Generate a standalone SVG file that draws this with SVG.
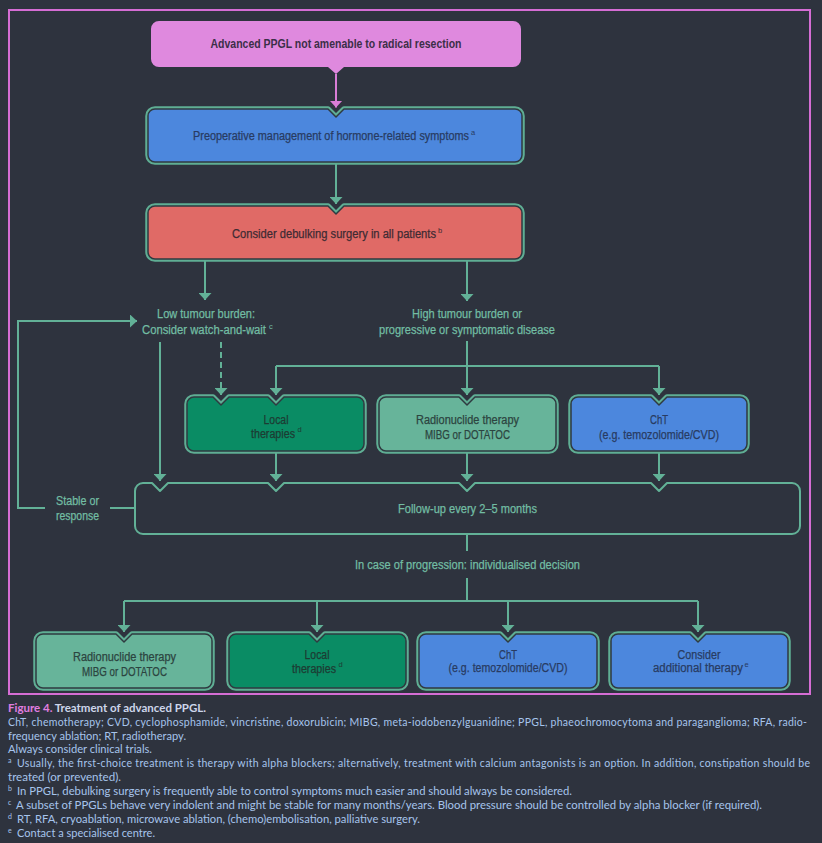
<svg xmlns="http://www.w3.org/2000/svg" width="822" height="843" viewBox="0 0 822 843">
<defs>
<style>
.bg{fill:#2e333e}
.frame{fill:none;stroke:#d56dd4;stroke-width:2}
.edge{fill:none;stroke:#5fae94;stroke-width:5.5;stroke-linejoin:round}
.inner{stroke:#2f3a40;stroke-width:1.5;stroke-linejoin:round}
.blue{fill:#4c87dd}
.red{fill:#e06a66}
.dkg{fill:#0a8c64}
.ltg{fill:#67b49a}
.con{fill:none;stroke:#62b197;stroke-width:2;marker-end:url(#ah)}
.conn{fill:none;stroke:#62b197;stroke-width:2}
.t{font-family:"Liberation Sans",Arial,sans-serif;font-size:12.5px;text-anchor:middle;stroke-width:0.25px}
.tb{fill:#283b62;stroke:#283b62}
.tr{fill:#3d2b33;stroke:#3d2b33}
.tg{fill:#2c4440;stroke:#2c4440}
.tdg{fill:#1d3b33;stroke:#1d3b33}
.tl{fill:#72bda3;stroke:#72bda3}
.sup{font-family:"Liberation Sans",Arial,sans-serif;font-size:7.5px;stroke:none}
.cap{font-family:Lato,"Open Sans",sans-serif;font-size:10.5px;fill:#a6c4ec}
.csup{font-family:Lato,"Open Sans",sans-serif;font-size:7px;fill:#a6c4ec}
</style>
<marker id="ah" viewBox="0 0 7 13" refX="7" refY="6.5" markerWidth="7" markerHeight="13" markerUnits="userSpaceOnUse" orient="auto">
<path d="M0,0 L7,6.5 L0,13 Z" fill="#62b197"/>
</marker>
<marker id="ahp" viewBox="0 0 7 13" refX="7" refY="6.5" markerWidth="7" markerHeight="13" markerUnits="userSpaceOnUse" orient="auto">
<path d="M0,0 L7,6.5 L0,13 Z" fill="#d97dd6"/>
</marker>
</defs>
<rect class="bg" x="0" y="0" width="822" height="843"/>
<rect class="frame" x="9" y="10" width="801" height="684"/>

<g id="connectors">
<path d="M336,74 V107.5" fill="none" stroke="#d97dd6" stroke-width="2" marker-end="url(#ahp)"/>
<path class="con" d="M336,162 V204"/>
<path class="con" d="M205,259 V300"/>
<path class="con" d="M467,259 V301"/>
<path class="con" d="M160,342 V481"/>
<path class="con" d="M221,342 V395" stroke-dasharray="6,4"/>
<path class="con" d="M467,341 V395"/>
<path class="conn" d="M276,366 H659"/>
<path class="con" d="M276,366 V395"/>
<path class="con" d="M659,366 V395"/>
<path class="con" d="M276,451 V481"/>
<path class="con" d="M467,451 V481"/>
<path class="con" d="M659,451 V481"/>
<path class="con" d="M45,508 H18 V321 H137"/>
<path class="conn" d="M110,508 H135"/>
<path class="conn" d="M467,534 V551"/>
<path class="conn" d="M467,578 V601"/>
<path class="conn" d="M124,601 H698"/>
<path class="con" d="M124,601 V632"/>
<path class="con" d="M317,601 V632"/>
<path class="con" d="M508,601 V632"/>
<path class="con" d="M698,601 V632"/>
</g>

<g id="n-start">
<path d="M159,21 H513 A8,8 0 0 1 521,29 V59 A8,8 0 0 1 513,67 H344 L336,74 L328,67 H159 A8,8 0 0 1 151,59 V29 A8,8 0 0 1 159,21 Z" fill="#df89de"/>
<text class="t" x="336" y="48" font-weight="bold" fill="#3b2f48" textLength="251" lengthAdjust="spacingAndGlyphs">Advanced PPGL not amenable to radical resection</text>
</g>

<g id="n-preop">
<path class="edge" d="M155,109 H328 L336,117 L344,109 H515 A7,7 0 0 1 522,116 V155 A7,7 0 0 1 515,162 H155 A7,7 0 0 1 148,155 V116 A7,7 0 0 1 155,109 Z"/>
<path class="blue inner" d="M155,109 H328 L336,117 L344,109 H515 A7,7 0 0 1 522,116 V155 A7,7 0 0 1 515,162 H155 A7,7 0 0 1 148,155 V116 A7,7 0 0 1 155,109 Z"/>
<text class="t tb" x="331" y="140" textLength="276" lengthAdjust="spacingAndGlyphs">Preoperative management of hormone-related symptoms</text>
<text class="sup tb" x="471" y="134.5">a</text>
</g>

<g id="n-debulk">
<path class="edge" d="M155,206 H328 L336,214 L344,206 H515 A7,7 0 0 1 522,213 V252 A7,7 0 0 1 515,259 H155 A7,7 0 0 1 148,252 V213 A7,7 0 0 1 155,206 Z"/>
<path class="red inner" d="M155,206 H328 L336,214 L344,206 H515 A7,7 0 0 1 522,213 V252 A7,7 0 0 1 515,259 H155 A7,7 0 0 1 148,252 V213 A7,7 0 0 1 155,206 Z"/>
<text class="t tr" x="334" y="238" textLength="204" lengthAdjust="spacingAndGlyphs">Consider debulking surgery in all patients</text>
<text class="sup tr" x="438" y="232.5">b</text>
</g>

<g id="n-low">
<text class="t tl" x="206" y="318" textLength="98" lengthAdjust="spacingAndGlyphs">Low tumour burden:</text>
<text class="t tl" x="204" y="334" textLength="124" lengthAdjust="spacingAndGlyphs">Consider watch-and-wait</text>
<text class="sup tl" x="269" y="329">c</text>
</g>

<g id="n-high">
<text class="t tl" x="467" y="318" textLength="110" lengthAdjust="spacingAndGlyphs">High tumour burden or</text>
<text class="t tl" x="467" y="334" textLength="176" lengthAdjust="spacingAndGlyphs">progressive or symptomatic disease</text>
</g>

<g id="n-local1">
<path class="edge" d="M194,397 H213 L221,405 L229,397 H268 L276,405 L284,397 H357 A7,7 0 0 1 364,404 V444 A7,7 0 0 1 357,451 H194 A7,7 0 0 1 187,444 V404 A7,7 0 0 1 194,397 Z"/>
<path class="dkg inner" d="M194,397 H213 L221,405 L229,397 H268 L276,405 L284,397 H357 A7,7 0 0 1 364,404 V444 A7,7 0 0 1 357,451 H194 A7,7 0 0 1 187,444 V404 A7,7 0 0 1 194,397 Z"/>
<text class="t tdg" x="276" y="424" textLength="25" lengthAdjust="spacingAndGlyphs">Local</text>
<text class="t tdg" x="273" y="437.5" textLength="44" lengthAdjust="spacingAndGlyphs">therapies</text>
<text class="sup tdg" x="297.5" y="432">d</text>
</g>

<g id="n-radio1">
<path class="edge" d="M386,397 H459 L467,405 L475,397 H549 A7,7 0 0 1 556,404 V444 A7,7 0 0 1 549,451 H386 A7,7 0 0 1 379,444 V404 A7,7 0 0 1 386,397 Z"/>
<path class="ltg inner" d="M386,397 H459 L467,405 L475,397 H549 A7,7 0 0 1 556,404 V444 A7,7 0 0 1 549,451 H386 A7,7 0 0 1 379,444 V404 A7,7 0 0 1 386,397 Z"/>
<text class="t tg" x="467.5" y="423.5" textLength="103" lengthAdjust="spacingAndGlyphs">Radionuclide therapy</text>
<text class="t tg" x="467.5" y="438.5" textLength="85" lengthAdjust="spacingAndGlyphs">MIBG or DOTATOC</text>
</g>

<g id="n-cht1">
<path class="edge" d="M578,397 H651 L659,405 L667,397 H740 A7,7 0 0 1 747,404 V444 A7,7 0 0 1 740,451 H578 A7,7 0 0 1 571,444 V404 A7,7 0 0 1 578,397 Z"/>
<path class="blue inner" d="M578,397 H651 L659,405 L667,397 H740 A7,7 0 0 1 747,404 V444 A7,7 0 0 1 740,451 H578 A7,7 0 0 1 571,444 V404 A7,7 0 0 1 578,397 Z"/>
<text class="t tb" x="659" y="423.5" textLength="18" lengthAdjust="spacingAndGlyphs">ChT</text>
<text class="t tb" x="659" y="438.5" textLength="120" lengthAdjust="spacingAndGlyphs">(e.g. temozolomide/CVD)</text>
</g>

<g id="n-stable">
<text class="t tl" x="77.5" y="505" textLength="43" lengthAdjust="spacingAndGlyphs">Stable or</text>
<text class="t tl" x="77.5" y="520" textLength="43" lengthAdjust="spacingAndGlyphs">response</text>
</g>

<g id="n-followup">
<path d="M143,483 H152 L160,491 L168,483 H268 L276,491 L284,483 H459 L467,491 L475,483 H651 L659,491 L667,483 H792 A8,8 0 0 1 800,491 V526 A8,8 0 0 1 792,534 H143 A8,8 0 0 1 135,526 V491 A8,8 0 0 1 143,483 Z" fill="none" stroke="#62b197" stroke-width="2" stroke-linejoin="round"/>
<text class="t tl" x="467.5" y="513" textLength="139" lengthAdjust="spacingAndGlyphs">Follow-up every 2–5 months</text>
</g>

<g id="n-progression">
<text class="t tl" x="467.5" y="569" textLength="225" lengthAdjust="spacingAndGlyphs">In case of progression: individualised decision</text>
</g>

<g id="n-radio2">
<path class="edge" d="M43,634 H116 L124,642 L132,634 H205 A7,7 0 0 1 212,641 V681 A7,7 0 0 1 205,688 H43 A7,7 0 0 1 36,681 V641 A7,7 0 0 1 43,634 Z"/>
<path class="ltg inner" d="M43,634 H116 L124,642 L132,634 H205 A7,7 0 0 1 212,641 V681 A7,7 0 0 1 205,688 H43 A7,7 0 0 1 36,681 V641 A7,7 0 0 1 43,634 Z"/>
<text class="t tg" x="124.5" y="660.5" textLength="103" lengthAdjust="spacingAndGlyphs">Radionuclide therapy</text>
<text class="t tg" x="124.5" y="675.5" textLength="85" lengthAdjust="spacingAndGlyphs">MIBG or DOTATOC</text>
</g>

<g id="n-local2">
<path class="edge" d="M236,634 H309 L317,642 L325,634 H399 A7,7 0 0 1 406,641 V681 A7,7 0 0 1 399,688 H236 A7,7 0 0 1 229,681 V641 A7,7 0 0 1 236,634 Z"/>
<path class="dkg inner" d="M236,634 H309 L317,642 L325,634 H399 A7,7 0 0 1 406,641 V681 A7,7 0 0 1 399,688 H236 A7,7 0 0 1 229,681 V641 A7,7 0 0 1 236,634 Z"/>
<text class="t tdg" x="317" y="659" textLength="25" lengthAdjust="spacingAndGlyphs">Local</text>
<text class="t tdg" x="314" y="672.5" textLength="44" lengthAdjust="spacingAndGlyphs">therapies</text>
<text class="sup tdg" x="338.5" y="667">d</text>
</g>

<g id="n-cht2">
<path class="edge" d="M426,634 H500 L508,642 L516,634 H590 A7,7 0 0 1 597,641 V681 A7,7 0 0 1 590,688 H426 A7,7 0 0 1 419,681 V641 A7,7 0 0 1 426,634 Z"/>
<path class="blue inner" d="M426,634 H500 L508,642 L516,634 H590 A7,7 0 0 1 597,641 V681 A7,7 0 0 1 590,688 H426 A7,7 0 0 1 419,681 V641 A7,7 0 0 1 426,634 Z"/>
<text class="t tb" x="508" y="659" textLength="18" lengthAdjust="spacingAndGlyphs">ChT</text>
<text class="t tb" x="508" y="672" textLength="119" lengthAdjust="spacingAndGlyphs">(e.g. temozolomide/CVD)</text>
</g>

<g id="n-additional">
<path class="edge" d="M618,634 H690 L698,642 L706,634 H781 A7,7 0 0 1 788,641 V681 A7,7 0 0 1 781,688 H618 A7,7 0 0 1 611,681 V641 A7,7 0 0 1 618,634 Z"/>
<path class="blue inner" d="M618,634 H690 L698,642 L706,634 H781 A7,7 0 0 1 788,641 V681 A7,7 0 0 1 781,688 H618 A7,7 0 0 1 611,681 V641 A7,7 0 0 1 618,634 Z"/>
<text class="t tb" x="699" y="659" textLength="43" lengthAdjust="spacingAndGlyphs">Consider</text>
<text class="t tb" x="698" y="672" textLength="90" lengthAdjust="spacingAndGlyphs">additional therapy</text>
<text class="sup tb" x="744.5" y="666.5">e</text>
</g>

<g id="caption">
<text class="cap" x="8" y="712" font-weight="bold" textLength="198" lengthAdjust="spacingAndGlyphs"><tspan fill="#e07ee0">Figure 4.</tspan><tspan fill="#cdd6ea"> Treatment of advanced PPGL.</tspan></text>
<text class="cap" x="8" y="726" textLength="799" lengthAdjust="spacing">ChT, chemotherapy; CVD, cyclophosphamide, vincristine, doxorubicin; MIBG, meta-iodobenzylguanidine; PPGL, phaeochromocytoma and paraganglioma; RFA, radio-</text>
<text class="cap" x="8" y="739.5" textLength="178" lengthAdjust="spacingAndGlyphs">frequency ablation; RT, radiotherapy.</text>
<text class="cap" x="8" y="753" textLength="144" lengthAdjust="spacingAndGlyphs">Always consider clinical trials.</text>
<text class="csup" x="8" y="763">a</text>
<text class="cap" x="17" y="767" textLength="793" lengthAdjust="spacing">Usually, the first-choice treatment is therapy with alpha blockers; alternatively, treatment with calcium antagonists is an option. In addition, constipation should be</text>
<text class="cap" x="8" y="781" textLength="113" lengthAdjust="spacingAndGlyphs">treated (or prevented).</text>
<text class="csup" x="8" y="790.5">b</text>
<text class="cap" x="17" y="794.5" textLength="555" lengthAdjust="spacingAndGlyphs">In PPGL, debulking surgery is frequently able to control symptoms much easier and should always be considered.</text>
<text class="csup" x="8" y="804.5">c</text>
<text class="cap" x="16" y="808.5" textLength="746" lengthAdjust="spacingAndGlyphs">A subset of PPGLs behave very indolent and might be stable for many months/years. Blood pressure should be controlled by alpha blocker (if required).</text>
<text class="csup" x="8" y="818.5">d</text>
<text class="cap" x="17" y="822.5" textLength="403" lengthAdjust="spacingAndGlyphs">RT, RFA, cryoablation, microwave ablation, (chemo)embolisation, palliative surgery.</text>
<text class="csup" x="8" y="832.5">e</text>
<text class="cap" x="17" y="836.5" textLength="138" lengthAdjust="spacingAndGlyphs">Contact a specialised centre.</text>
</g>
</svg>
